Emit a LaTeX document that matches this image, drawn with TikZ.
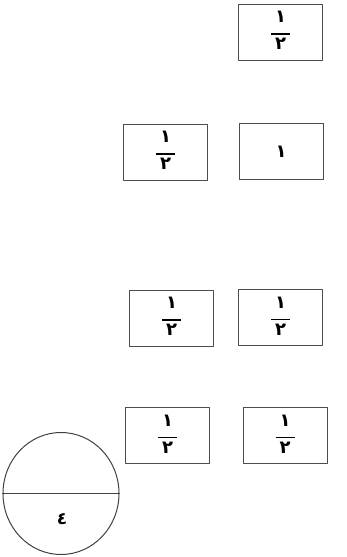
\documentclass[tikz,border=0pt]{standalone}
\usepackage{fontspec}
\newfontfamily\arabicfont[Script=Arabic]{DejaVu Sans}
\usetikzlibrary{shapes.geometric}

% frazione con cifre arabo-indiane
\newcommand{\kasr}[2]{\begin{tabular}{@{}c@{}}\bfseries\arabicfont #1\\[-4pt]
		\rule[4pt]{19pt}{1.3pt}\\[-9pt]\bfseries\arabicfont #2\end{tabular}}

\begin{document}
\begin{tikzpicture}[x=1pt, y=-1pt,
		line cap=round, line join=round,
		card/.style={draw=black!70, line width=1pt, inner sep=0pt,
				minimum width=84pt, minimum height=56pt,
				font=\fontsize{18}{20}\selectfont},
		disc/.style={draw=black!75, line width=1pt, ellipse, inner sep=0pt,
				minimum width=116pt, minimum height=122pt},
		lbl/.style={font=\fontsize{17}{19}\selectfont\arabicfont\bfseries}]

	\useasboundingbox (0,0) rectangle (346,557);

	% ---- prima riga ----
	\node[card] (b1)  at (280.5,32)    {\kasr{١}{٢}};

	% ---- seconda riga ----
	\node[card] (b2l) at (165.5,152)   {\kasr{١}{٢}};
	\node[card] (b2r) at (281,151.5)   {\bfseries\arabicfont ١};

	% ---- terza riga ----
	\node[card] (b3l) at (171.5,318)   {\kasr{١}{٢}};
	\node[card] (b3r) at (280.5,317.5) {\kasr{١}{٢}};

	% ---- quarta riga ----
	\node[card] (b4l) at (167.5,435.5) {\kasr{١}{٢}};
	\node[card] (b4r) at (285,435.5)   {\kasr{١}{٢}};

	% ---- cerchio diviso ----
	\node[disc] (c) at (61,493.5) {};
	\draw[black!75, line width=1pt] (c.west) -- (c.east);
	\node[lbl] (c4) at (62,519) {٤};

\end{tikzpicture}
\end{document}
